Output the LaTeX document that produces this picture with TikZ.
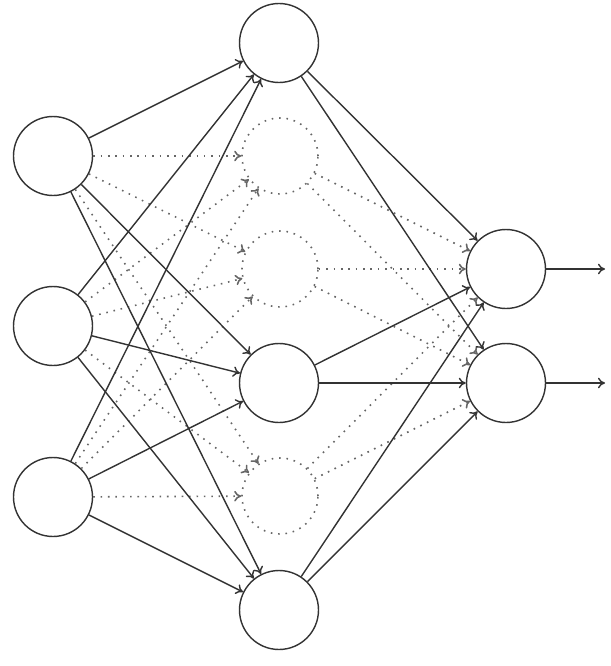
\documentclass[tikz,border=0pt]{standalone}
\usetikzlibrary{arrows.meta}
\begin{document}
\begin{tikzpicture}[x=0.02cm,y=-0.02cm,
  neuron/.style={circle,draw=black!80,line width=0.8pt,minimum size=1.58cm,inner sep=0pt},
  dropped/.style={circle,draw=black!60,line width=0.9pt,dash pattern=on 0.9pt off 3.3pt,minimum size=1.52cm,inner sep=0pt},
  conn/.style={draw=black!80,line width=0.8pt,-{To[length=4pt,width=6pt]}},
  dconn/.style={draw=black!60,line width=0.9pt,dash pattern=on 0.9pt off 3.3pt,-{To[length=4pt,width=6pt]}}]
\useasboundingbox (0,0) rectangle (610,666);
% inputs
\node[neuron] (i1) at (53,156) {};
\node[neuron] (i2) at (53,326) {};
\node[neuron] (i3) at (53,497) {};
% hidden
\node[neuron]  (h1) at (279,43) {};
\node[dropped] (h2) at (280,156) {};
\node[dropped] (h3) at (280,269) {};
\node[neuron]  (h4) at (279,383) {};
\node[dropped] (h5) at (280,496) {};
\node[neuron]  (h6) at (279,610) {};
% outputs
\node[neuron] (o1) at (506,269) {};
\node[neuron] (o2) at (506,383) {};
\coordinate (e1) at (605,269);
\coordinate (e2) at (605,383);
% dotted connections
\foreach \i in {i1,i2,i3}{
  \foreach \h in {h2,h3,h5}{ \draw[dconn] (\i) -- (\h); }
}
\foreach \h in {h2,h3,h5}{
  \foreach \o in {o1,o2}{ \draw[dconn] (\h) -- (\o); }
}
% solid connections
\foreach \i in {i1,i2,i3}{
  \foreach \h in {h1,h4,h6}{ \draw[conn] (\i) -- (\h); }
}
\foreach \h in {h1,h4,h6}{
  \foreach \o in {o1,o2}{ \draw[conn] (\h) -- (\o); }
}
\draw[conn] (o1) -- (e1);
\draw[conn] (o2) -- (e2);
\end{tikzpicture}
\end{document}
